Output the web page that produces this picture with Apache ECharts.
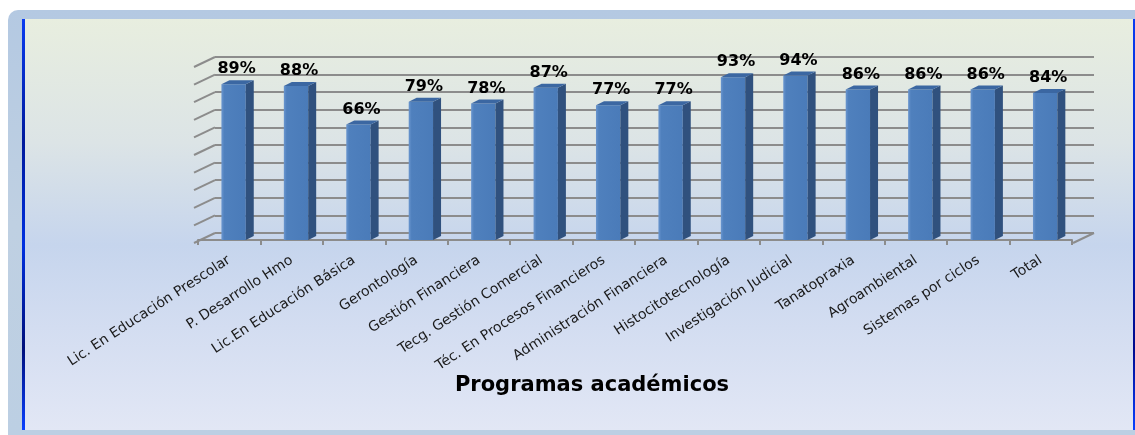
<!DOCTYPE html>
<html>
<head>
<meta charset="utf-8">
<title>Programas académicos</title>
<script src="https://cdn.jsdelivr.net/npm/echarts@6/dist/echarts.min.js"></script>
<style>
  body { margin: 0; background: #ffffff; }
  #wrap { position: relative; width: 1135px; height: 435px; overflow: hidden; }
  #outer {
    position: absolute; left: 8px; top: 10px; width: 1127px; height: 425px;
    border-top-left-radius: 10px;
    background: linear-gradient(to bottom, #b4c9e2 0%, #bfd0e2 50%, #bccfe3 100%);
  }
  #panel {
    position: absolute; left: 25px; top: 19px; width: 1108px; height: 411px;
    background: linear-gradient(to bottom, #e8eedf 0%, #dce4e6 30%, #c6d5ed 55%, #d3ddf1 75%, #e2e7f5 100%);
  }
  #lline {
    position: absolute; left: 22px; top: 19px; width: 3px; height: 411px;
    background: linear-gradient(to bottom, #0a3cf0 0%, #001a9c 30%, #0030e0 55%, #00107a 80%, #0a40ff 100%);
  }
  #rline {
    position: absolute; left: 1133px; top: 19px; width: 2px; height: 411px;
    background: linear-gradient(to bottom, #0a3cf0 0%, #0028c8 40%, #000a8c 80%, #0a40ff 100%);
  }
  #main { position: absolute; left: 0; top: 0; width: 1135px; height: 435px; }
</style>
</head>
<body>
<div id="wrap">
  <div id="outer"></div>
  <div id="panel"></div>
  <div id="lline"></div>
  <div id="rline"></div>
  <div id="main"></div>
</div>
<script>
// programas
var categories = [
  "Lic. En Educación Prescolar",
  "P. Desarrollo Hmo",
  "Lic.En Educación Básica",
  "Gerontología",
  "Gestión Financiera",
  "Tecg. Gestión Comercial",
  "Téc. En Procesos Financieros",
  "Administración Financiera",
  "Histocitotecnología",
  "Investigación Judicial",
  "Tanatopraxia",
  "Agroambiental",
  "Sistemas por ciclos",
  "Total"
];
// porcentajes
var values = [89, 88, 66, 79, 78, 87, 77, 77, 93, 94, 86, 86, 86, 84];
// lineas de la pared (0..100 cada 10)
var yTicks = [0, 10, 20, 30, 40, 50, 60, 70, 80, 90, 100];

var chart = echarts.init(document.getElementById("main"));

var gridColor = "#8c8c8c";
var depthX = -21; // pared de fondo -> frente
var depthY = 10;

var option = {
  backgroundColor: "transparent",
  animation: false,
  grid: [
    // pared de fondo
    { left: 215, right: 41, top: 57, bottom: 202 },
    // barras (frente)
    { left: 198, right: 63, top: 65, bottom: 195 }
  ],
  xAxis: [
    {
      gridIndex: 0,
      type: "category",
      data: categories,
      show: false
    },
    {
      gridIndex: 1,
      type: "category",
      data: categories,
      offset: 3,
      axisLine: { show: true, lineStyle: { color: gridColor, width: 2 } },
      axisTick: { show: true, interval: 0, length: 5, lineStyle: { color: gridColor, width: 2 } },
      axisLabel: {
        interval: 0,
        rotate: 33,
        margin: 16,
        color: "#1a1a1a",
        fontFamily: "DejaVu Sans",
        fontSize: 14
      },
      name: "Programas académicos",
      nameLocation: "middle",
      nameGap: 130,
      nameTextStyle: {
        color: "#000000",
        fontFamily: "DejaVu Sans",
        fontWeight: "bold",
        fontSize: 21,
        padding: [0, 86, 0, 0]
      }
    }
  ],
  yAxis: [
    {
      gridIndex: 0,
      type: "value",
      min: 0,
      max: 100,
      interval: 10,
      axisLine: { show: false },
      axisTick: { show: false },
      axisLabel: { show: false },
      splitLine: { show: true, lineStyle: { color: gridColor, width: 2 } }
    },
    {
      gridIndex: 1,
      type: "value",
      min: 0,
      max: 100,
      interval: 10,
      show: false,
      splitLine: { show: false }
    }
  ],
  series: [
    {
      // lineas inclinadas de la pared izquierda y borde derecho del piso
      type: "custom",
      xAxisIndex: 0,
      yAxisIndex: 0,
      silent: true,
      data: yTicks.map(function (t) {
        return [0, t];
      }),
      renderItem: function (params, api) {
        var cs = params.coordSys;
        var v = api.value(1);
        var y = api.coord([0, v])[1];
        var children = [
          {
            type: "line",
            shape: { x1: cs.x, y1: y, x2: cs.x + depthX, y2: y + depthY },
            style: { stroke: gridColor, lineWidth: 2 }
          }
        ];
        if (v === 0) {
          children.push({
            type: "line",
            shape: { x1: cs.x + cs.width, y1: y, x2: cs.x + cs.width + depthX, y2: y + depthY },
            style: { stroke: gridColor, lineWidth: 2 }
          });
        }
        return { type: "group", children: children };
      }
    },
    {
      // barras 3D
      type: "custom",
      xAxisIndex: 1,
      yAxisIndex: 1,
      data: values.map(function (v, i) {
        return [i, v];
      }),
      renderItem: function (params, api) {
        var idx = api.value(0);
        var v = api.value(1);
        var top = api.coord([idx, v]);
        var base = api.coord([idx, 0]);
        var bw = api.size([1, 0])[0];
        var w = bw * 0.39;
        var left = top[0] - bw / 2 + bw * 0.375;
        var right = left + w;
        var dx = 8;
        var dy = 4;
        var t = top[1];
        var b = base[1];
        return {
          type: "group",
          children: [
            {
              type: "rect",
              shape: { x: left, y: t, width: w, height: b - t },
              style: {
                fill: new echarts.graphic.LinearGradient(0, 0, 1, 0, [
                  { offset: 0, color: "#6a96cf" },
                  { offset: 0.12, color: "#4f80bd" },
                  { offset: 1, color: "#4a7bb9" }
                ])
              }
            },
            {
              type: "polygon",
              shape: { points: [[right, t], [right + dx, t - dy], [right + dx, b - dy], [right, b]] },
              style: { fill: "#30517e" }
            },
            {
              type: "polygon",
              shape: { points: [[left, t], [left + dx, t - dy], [right + dx, t - dy], [right, t]] },
              style: { fill: "#3b67a2" }
            },
            {
              type: "text",
              x: left + w / 2 + 3,
              y: t - 15,
              style: {
                text: v + "%",
                fill: "#000000",
                font: "bold 16px 'DejaVu Sans'",
                align: "center",
                verticalAlign: "middle"
              }
            }
          ]
        };
      }
    }
  ]
};

chart.setOption(option);
</script>
</body>
</html>
